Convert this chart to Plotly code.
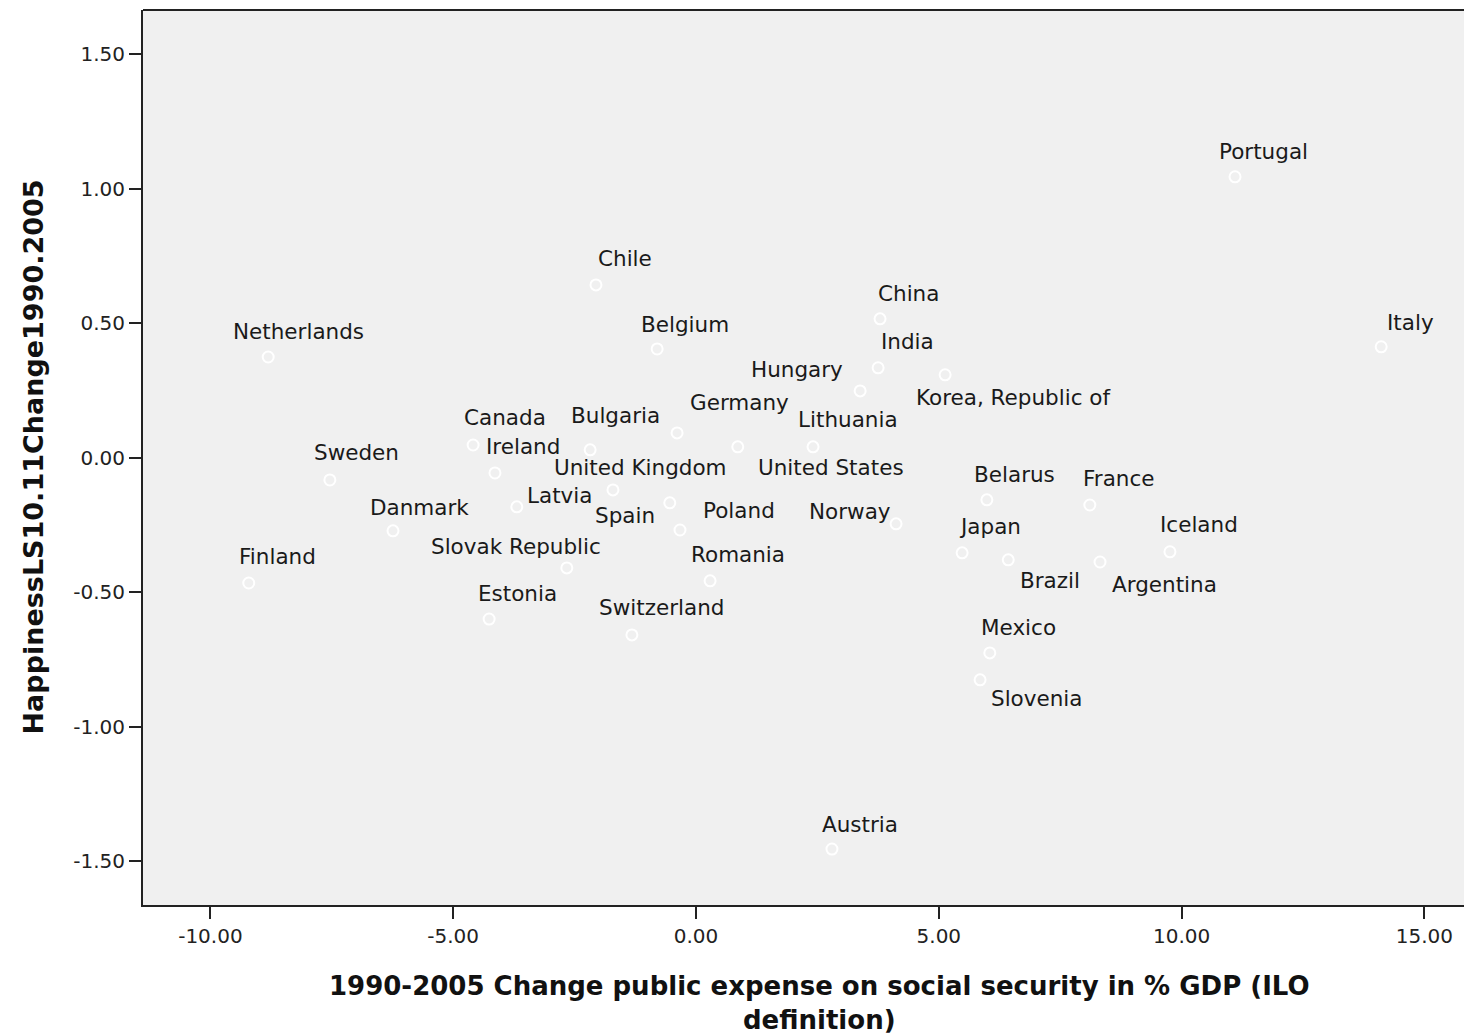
import plotly.graph_objects as go

# ---- data ----
countries = [
    "Netherlands", "Chile", "Belgium", "China", "India", "Hungary",
    "Korea, Republic of", "Germany", "Lithuania", "Canada", "Bulgaria",
    "Ireland", "United Kingdom", "United States", "Latvia", "Spain",
    "Poland", "Norway", "Romania", "Slovak Republic", "Estonia",
    "Switzerland", "Sweden", "Danmark", "Finland", "Belarus", "France",
    "Japan", "Iceland", "Brazil", "Argentina", "Mexico", "Slovenia",
    "Austria", "Portugal", "Italy",
]
expense_change = [
    -8.81, -2.06, -0.80, 3.79, 3.75, 3.38,
    5.13, -0.39, 2.41, -4.59, -2.18,
    -4.14, -1.71, 0.86, -3.69, -0.54,
    -0.33, 4.12, 0.29, -2.66, -4.26,
    -1.32, -7.54, -6.24, -9.21, 5.99, 8.11,
    5.48, 9.76, 6.43, 8.32, 6.05, 5.85,
    2.80, 11.10, 14.11,
]
happiness_change = [
    0.375, 0.643, 0.405, 0.517, 0.335, 0.249,
    0.309, 0.093, 0.041, 0.048, 0.030,
    -0.056, -0.119, 0.041, -0.182, -0.167,
    -0.268, -0.245, -0.457, -0.409, -0.599,
    -0.658, -0.082, -0.271, -0.465, -0.156, -0.175,
    -0.353, -0.349, -0.379, -0.387, -0.725, -0.825,
    -1.454, 1.045, 0.413,
]
x_ticks = [-10, -5, 0, 5, 10, 15]
y_ticks = [-1.5, -1.0, -0.5, 0.0, 0.5, 1.0, 1.5]

# ---- label placement (pixel offsets from each point, layout only) ----
label_dx = [30, 29, 28, 28, 29, -63, 68, 62, 35, 32, 25, 28, 28, 93, 43, -45,
            59, -46, 28, -51, 28, 30, 27, 27, 29, 28, 29, 28, 29, 42, 64, 29,
            57, 28, 28, 29]
label_dy = [26, 26, 24, 25, 26, 21, -23, 30, 27, 27, 34, 26, 22, -21, 11, -13,
            20, 12, 26, 21, 26, 27, 27, 23, 26, 25, 26, 26, 27, -21, -22, 25,
            -19, 25, 25, 24]

# page body has an 8px margin: figure sits at (8, 8)
W, H = 1464, 1027
ML, MR, MT, MB = 135, 0, 2, 130

fig = go.Figure()
fig.add_trace(go.Scatter(
    x=expense_change, y=happiness_change, mode="markers",
    text=countries, hoverinfo="text",
    marker=dict(symbol="circle-open", size=11, color="white",
                line=dict(width=2, color="white")),
    showlegend=False,
))

for name, xv, yv, dx, dy in zip(countries, expense_change, happiness_change,
                                label_dx, label_dy):
    fig.add_annotation(
        x=xv, y=yv, xref="x", yref="y", text=name, showarrow=False,
        xshift=dx, yshift=dy, xanchor="center", yanchor="middle",
        font=dict(family="DejaVu Sans", size=21.5, color="#1a1a1a"),
    )

# axis titles as annotations
fig.add_annotation(
    xref="paper", yref="paper", x=(811 - ML) / (W - ML - MR), y=0,
    yanchor="top", xanchor="center", yshift=-64, showarrow=False,
    text="<b>1990-2005 Change public expense on social security in % GDP (ILO</b><br><b>definition)</b>",
    font=dict(family="DejaVu Sans", size=26, color="#111111"),
    align="center",
)
fig.add_annotation(
    xref="paper", yref="paper", x=0, y=0.5, xanchor="center", yanchor="middle",
    xshift=-110, showarrow=False, textangle=-90,
    text="<b>HappinessLS10.11Change1990.2005</b>",
    font=dict(family="DejaVu Sans", size=27, color="#111111"),
)

# top frame line
fig.add_shape(type="line", xref="paper", yref="paper", x0=0, x1=1, y0=1, y1=1,
              line=dict(color="#222222", width=2))

fig.update_layout(
    width=W, height=H,
    margin=dict(l=ML, r=MR, t=MT, b=MB),
    paper_bgcolor="white", plot_bgcolor="#f0f0f0",
    xaxis=dict(
        range=[-11.388, 15.98], tickvals=x_ticks,
        ticktext=["%.2f" % v for v in x_ticks],
        ticks="outside", ticklen=12, tickwidth=2, tickcolor="#222222",
        showline=True, linecolor="#222222", linewidth=2,
        showgrid=False, zeroline=False,
        tickfont=dict(family="DejaVu Sans", size=20, color="#222222"),
    ),
    yaxis=dict(
        range=[-1.662, 1.665], tickvals=y_ticks,
        ticktext=["%.2f" % v for v in y_ticks],
        ticks="outside", ticklen=12, tickwidth=2, tickcolor="#222222",
        showline=True, linecolor="#222222", linewidth=2,
        showgrid=False, zeroline=False,
        tickfont=dict(family="DejaVu Sans", size=20, color="#222222"),
    ),
)

fig.write_html("out.html")
